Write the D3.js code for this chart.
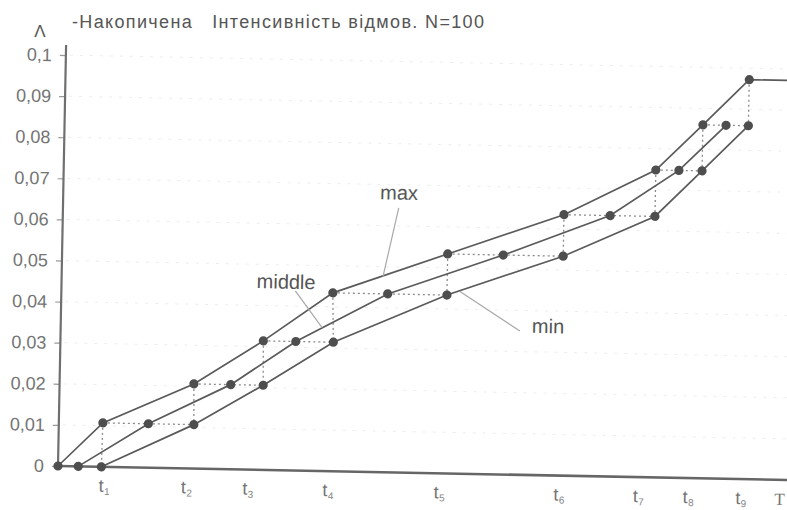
<!DOCTYPE html>
<html>
<head>
<meta charset="utf-8">
<script src="https://cdn.jsdelivr.net/npm/d3@7"></script>
<style>
  html, body { margin: 0; padding: 0; background: #fff; }
  svg { display: block; font-family: "Liberation Sans", Arial, sans-serif; }
</style>
</head>
<body>
<svg id="chart" width="787" height="510"></svg>
<script>
// Cumulative failure intensity Λ(t), N = 100: upper (max), average (middle)
// and lower (min) step estimates, each drawn as a polyline through its nodes.
const maxT = [0, 6.1, 18.6, 28.1, 37.6, 53.4, 69.4, 82.0, 88.4, 94.7];
const maxL = [0, 0.0107, 0.0206, 0.0314, 0.0434, 0.0534, 0.0635, 0.0748, 0.0860, 0.0972];
const midT = [2.8, 12.4, 23.7, 32.6, 45.2, 61.1, 75.8, 85.2, 91.6];
const midL = [0, 0.0107, 0.0206, 0.0314, 0.0434, 0.0534, 0.0635, 0.0748, 0.0860];
const minT = [6.0, 18.7, 28.2, 37.8, 53.4, 69.4, 82.0, 88.4, 94.7];
const minL = [0, 0.0107, 0.0206, 0.0314, 0.0434, 0.0534, 0.0635, 0.0748, 0.0860];
const tEnd = 100;              // observation end T

const yTicks = [0, 0.01, 0.02, 0.03, 0.04, 0.05, 0.06, 0.07, 0.08, 0.09, 0.1];
const yTickLabels = ["0", "0,01", "0,02", "0,03", "0,04", "0,05", "0,06", "0,07", "0,08", "0,09", "0,1"];
const xTickSubs = ["1", "2", "3", "4", "5", "6", "7", "8", "9"];
const xTickPos = [6.3, 17.7, 26.2, 37.3, 52.7, 69.3, 80.3, 87.2, 94.5];

const titleText = "-Накопичена\u00a0\u00a0 Інтенсивність відмов. N=100";

// Series labels with leader lines (data coordinates)
const notes = [
  { text: "max",    t: 46.5, v: 0.0664, from: [46.5, 0.0644], to: [44.5, 0.0476] },
  { text: "middle", t: 31.1, v: 0.0442, from: [32.4, 0.0437], to: [36.2, 0.0349] },
  { text: "min",    t: 67.5, v: 0.0346, from: [63.6, 0.0350], to: [55.2, 0.0443] }
];

const svg = d3.select("#chart");
const x0 = 58, y0 = 466;
const x = d3.scaleLinear().domain([0, 100]).range([x0, x0 + 722]);
const y = d3.scaleLinear().domain([0, 0.1]).range([y0, y0 - 411]);

// Title and axis symbol
svg.append("text")
  .attr("x", 72).attr("y", 28)
  .attr("textLength", 412)
  .attr("font-size", 18).attr("fill", "#555")
  .text(titleText);
svg.append("text")
  .attr("x", 40).attr("y", 37).attr("text-anchor", "middle")
  .attr("font-size", 17).attr("fill", "#555")
  .text("Λ");

// Plot body, tilted slightly as on the sheet
const g = svg.append("g").attr("transform", `rotate(1.1, ${x0}, ${y0})`);

// faint horizontal guides
g.append("g").selectAll("line")
  .data(yTicks.slice(1))
  .join("line")
  .attr("x1", x0 + 4).attr("x2", x(101))
  .attr("y1", d => y(d)).attr("y2", d => y(d))
  .attr("stroke", "#ededed").attr("stroke-width", 1)
  .attr("stroke-dasharray", "3,7");

// y axis ticks and labels
const yAxis = d3.axisLeft(y)
  .tickValues(yTicks)
  .tickSize(6)
  .tickPadding(8)
  .tickFormat((d, i) => yTickLabels[i]);
const ya = g.append("g").attr("transform", `translate(${x0},0)`).call(yAxis);
ya.select(".domain").remove();
ya.selectAll(".tick line").attr("stroke", "#999").attr("stroke-width", 1.2);
ya.selectAll(".tick text")
  .attr("font-size", 18).attr("fill", "#747474")
  .attr("font-family", "Liberation Sans, Arial, sans-serif");

// axis lines
g.append("line")
  .attr("x1", x0).attr("x2", x0)
  .attr("y1", y0).attr("y2", y(0.1) - 10)
  .attr("stroke", "#6f6f6f").attr("stroke-width", 2.2);
g.append("line")
  .attr("x1", x0).attr("x2", x(102))
  .attr("y1", y0).attr("y2", y0)
  .attr("stroke", "#666").attr("stroke-width", 2.6);

// x tick labels t1..t9 and T
const xl = g.append("g").selectAll("g")
  .data(xTickSubs)
  .join("g");
xl.append("text")
  .attr("x", (d, i) => x(xTickPos[i]) - 2).attr("y", y0 + 25)
  .attr("text-anchor", "middle")
  .attr("font-size", 18).attr("fill", "#747474")
  .text("t");
xl.append("text")
  .attr("x", (d, i) => x(xTickPos[i]) + 1).attr("y", y0 + 28)
  .attr("font-size", 10).attr("fill", "#858585")
  .text(d => d);
g.append("text")
  .attr("x", x(tEnd)).attr("y", y0 + 25)
  .attr("text-anchor", "middle")
  .attr("font-size", 17).attr("fill", "#747474")
  .attr("font-family", "Liberation Serif, serif")
  .text("T");

// dotted step connectors
const hSteps = d3.range(1, minT.length).map(i => [[maxT[i], maxL[i]], [minT[i], minL[i]]]);
const vSteps = d3.range(1, maxT.length).map(i => [[maxT[i], maxL[i]], [minT[i - 1], minL[i - 1]]]);
g.append("g").selectAll("line")
  .data(hSteps.concat(vSteps))
  .join("line")
  .attr("x1", d => x(d[0][0])).attr("y1", d => y(d[0][1]))
  .attr("x2", d => x(d[1][0])).attr("y2", d => y(d[1][1]))
  .attr("stroke", "#8a8a8a").attr("stroke-width", 1.3)
  .attr("stroke-dasharray", "2,3");

// series polylines
const line = d3.line().x(d => x(d[0])).y(d => y(d[1]));
const maxPts = maxT.map((t, i) => [t, maxL[i]]);
const midPts = midT.map((t, i) => [t, midL[i]]);
const minPts = minT.map((t, i) => [t, minL[i]]);
[maxPts.concat([[tEnd, maxL[maxL.length - 1]]]), midPts, minPts].forEach(pts => {
  g.append("path")
    .attr("d", line(pts))
    .attr("fill", "none")
    .attr("stroke", "#5a5a5a").attr("stroke-width", 1.7);
});

// leader lines and series names
g.append("g").selectAll("line")
  .data(notes)
  .join("line")
  .attr("x1", d => x(d.from[0])).attr("y1", d => y(d.from[1]))
  .attr("x2", d => x(d.to[0])).attr("y2", d => y(d.to[1]))
  .attr("stroke", "#a8a8a8").attr("stroke-width", 1.2);
g.append("g").selectAll("text")
  .data(notes)
  .join("text")
  .attr("x", d => x(d.t)).attr("y", d => y(d.v))
  .attr("text-anchor", "middle")
  .attr("font-size", 20).attr("fill", "#555")
  .text(d => d.text);

// nodes
g.append("g").selectAll("circle")
  .data(maxPts.concat(midPts, minPts))
  .join("circle")
  .attr("cx", d => x(d[0])).attr("cy", d => y(d[1]))
  .attr("r", 4.6)
  .attr("fill", "#4e4e4e");
</script>
</body>
</html>
